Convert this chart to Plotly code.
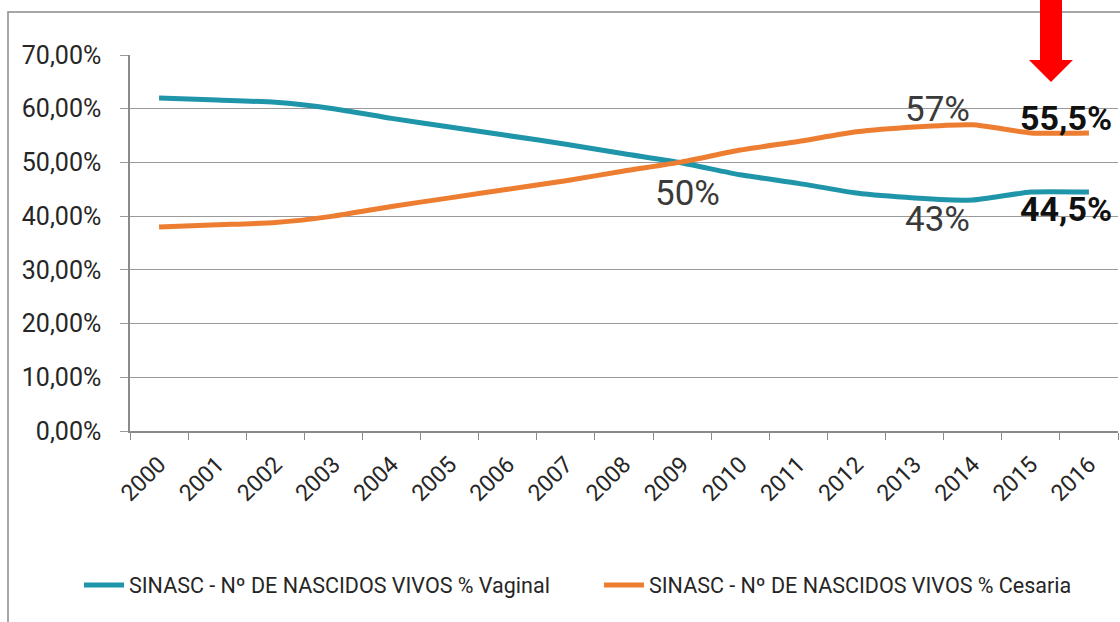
import plotly.graph_objects as go

years = [str(y) for y in range(2000, 2017)]
vaginal = [62.0, 61.6, 61.2, 60.0, 58.2, 56.6, 55.0, 53.4, 51.6, 49.9, 47.7, 46.1, 44.3, 43.4, 43.0, 44.5, 44.5]
cesaria = [38.0, 38.4, 38.8, 40.0, 41.8, 43.4, 45.0, 46.6, 48.4, 50.1, 52.3, 53.9, 55.7, 56.6, 57.0, 55.5, 55.5]
series_names = ["SINASC - Nº DE NASCIDOS VIVOS % Vaginal", "SINASC - Nº DE NASCIDOS VIVOS % Cesaria"]
colors = ["#1F95AA", "#ED7D31"]
y_ticks = [0, 10, 20, 30, 40, 50, 60, 70]

# callout labels: (text, category index, value, bold)
callouts = [
    ("50%", 9.1, 44.3, False),
    ("57%", 13.4, 59.8, False),
    ("43%", 13.4, 39.3, False),
    ("55,5%", 15.6, 58.3, True),
    ("44,5%", 15.6, 41.3, True),
]

W, H = 1120, 622
ML, MR, MT, MB = 130, 2, 55, 191
PW, PH = W - ML - MR, H - MT - MB

def px(xp):
    return (xp - ML) / PW

def py(yp):
    return (H - MB - yp) / PH

fig = go.Figure()
for name, vals, col in zip(series_names, [vaginal, cesaria], colors):
    fig.add_trace(go.Scatter(
        x=years, y=[v / 100 for v in vals], name=name, mode="lines",
        line=dict(color=col, width=5, shape="spline", smoothing=0.5),
    ))

for text, xi, val, bold in callouts:
    fig.add_annotation(
        x=xi, y=val / 100, xref="x", yref="y", showarrow=False,
        text=f"<b>{text}</b>" if bold else text,
        font=dict(family="Roboto", size=35 if not bold else 34,
                  color="#111111" if bold else "#3a3a3a"),
    )

# outer chart frame
fig.add_shape(type="rect", xref="paper", yref="paper",
              x0=px(8), x1=px(1130), y0=py(640), y1=py(12),
              line=dict(color="#8a8a8a", width=1.5), fillcolor="rgba(0,0,0,0)", layer="below")

# red arrow
arrow = [(1040, -5), (1062, -5), (1062, 60), (1073, 60), (1051, 82), (1029, 60), (1040, 60)]
path = "M " + " L ".join(f"{px(a):.5f},{py(b):.5f}" for a, b in arrow) + " Z"
fig.add_shape(type="path", xref="paper", yref="paper", path=path,
              fillcolor="#FF0000", line=dict(color="#FF0000", width=0))

fig.update_layout(
    width=W, height=H,
    margin=dict(l=ML, r=MR, t=MT, b=MB, autoexpand=False),
    paper_bgcolor="white", plot_bgcolor="white",
    separators=",.",
    font=dict(family="Roboto", color="#333333"),
    showlegend=True,
    legend=dict(orientation="h", x=px(79), xanchor="left", y=py(585), yanchor="middle",
                font=dict(family="Roboto", size=21.5, color="#262626"),
                bgcolor="rgba(0,0,0,0)", itemwidth=40, tracegroupgap=0,
                entrywidth=465, entrywidthmode="pixels"),
)
fig.update_xaxes(
    type="category", tickangle=-45, tickson="boundaries", automargin=False,
    ticks="outside", ticklen=7, tickcolor="#8a8a8a",
    showline=True, linecolor="#8a8a8a", linewidth=1.5,
    showgrid=False, tickfont=dict(family="Roboto", size=23, color="#262626"),
    range=[-0.5, 16.5], ticklabelstandoff=9,
)
fig.update_yaxes(
    range=[0, 0.7], tickvals=[t / 100 for t in y_ticks], tickformat=".2%", automargin=False,
    showgrid=True, gridcolor="#9a9a9a", gridwidth=1.4,
    ticks="outside", ticklen=8, tickcolor="#9a9a9a",
    showline=True, linecolor="#8a8a8a", linewidth=1.5,
    zeroline=False, tickfont=dict(family="Roboto", size=25, color="#262626"),
    ticklabelstandoff=14,
)

fig.write_html("out.html", config={"displayModeBar": False},
               post_script="document.body.style.margin='0';")
